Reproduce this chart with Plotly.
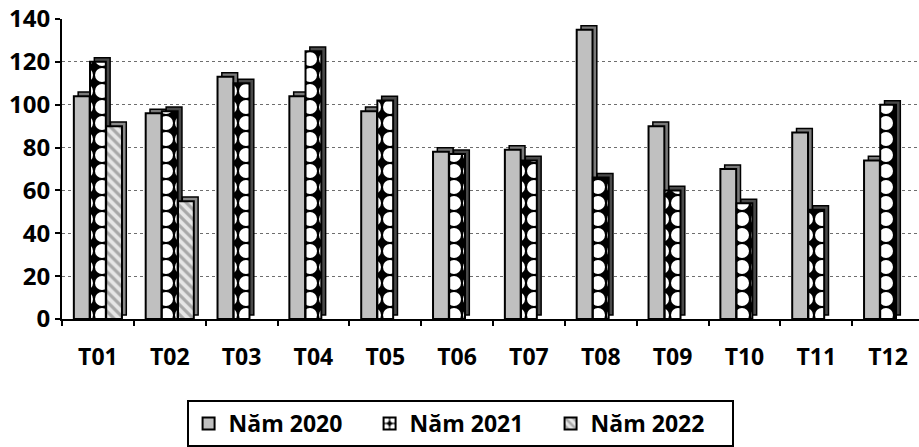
import plotly.graph_objects as go

# Monthly values per year
months = ["T01", "T02", "T03", "T04", "T05", "T06", "T07", "T08", "T09", "T10", "T11", "T12"]
y2020 = [104, 96, 113, 104, 97, 78, 79, 135, 90, 70, 87, 74]
y2021 = [120, 97, 110, 125, 102, 77, 74, 66, 60, 54, 51, 100]
y2022 = [90, 55, None, None, None, None, None, None, None, None, None, None]

FONT = "Open Sans"
BAR_W = 0.22
DEPTH_X = 0.06      # side-face shift (category units)
DEPTH_Y = 1.9       # side-face lift (value units)

series = [
    dict(name="Năm 2020", y=y2020, offset=-0.335,
         front=dict(color="#c0c0c0"),
         side="#7a7a7a"),
    dict(name="Năm 2021", y=y2021, offset=-0.11,
         front=dict(color="black",
                    pattern=dict(shape=".", bgcolor="black", fgcolor="white",
                                 size=16, solidity=0.6, fillmode="replace")),
         side="#4a4a4a"),
    dict(name="Năm 2022", y=y2022, offset=0.115,
         front=dict(color="white",
                    pattern=dict(shape="\\", bgcolor="#e6e6e6", fgcolor="#a8a8a8",
                                 size=7, solidity=0.45, fillmode="replace")),
         side="#8a8a8a"),
]

fig = go.Figure()

# depth faces drawn behind the front faces to give the columns a 3D look
for s in series:
    fig.add_trace(go.Bar(
        x=months, y=s["y"], base=DEPTH_Y, width=BAR_W,
        offset=s["offset"] + DEPTH_X, showlegend=False, hoverinfo="skip",
        marker=dict(color=s["side"], line=dict(color="black", width=1.5)),
    ))

for s in series:
    fig.add_trace(go.Bar(
        x=months, y=s["y"], name=s["name"], width=BAR_W, offset=s["offset"],
        marker=dict(**s["front"], line=dict(color="black", width=2)),
    ))

fig.update_layout(
    width=919, height=447,
    margin=dict(l=62, r=0, t=19, b=126),
    barmode="overlay",
    plot_bgcolor="white", paper_bgcolor="white",
    font=dict(family=FONT, color="black", size=23, weight="bold"),
    showlegend=True,
    legend=dict(
        orientation="h", x=0.4645, xanchor="center", y=-0.272, yanchor="top",
        bordercolor="black", borderwidth=2,
        font=dict(family=FONT, size=23, weight="bold", color="black"),
        traceorder="normal", itemwidth=30,
        entrywidth=136, entrywidthmode="pixels",
    ),
    xaxis=dict(
        type="category", range=[-0.5, 11.43],
        tickson="boundaries", ticks="outside", ticklen=5, tickwidth=2,
        tickcolor="black", showline=True, linecolor="black", linewidth=2,
        showgrid=False, ticklabelstandoff=16,
        tickfont=dict(family=FONT, size=23, weight="bold"),
    ),
    yaxis=dict(
        range=[0, 140], dtick=20, showgrid=True, gridcolor="#6e6e6e",
        griddash="dot", gridwidth=1, zeroline=False,
        showline=True, linecolor="black", linewidth=2,
        ticks="outside", ticklen=5, tickwidth=2, tickcolor="black",
        tickfont=dict(family=FONT, size=24, weight="bold"),
    ),
)

fig.write_html("out.html")
